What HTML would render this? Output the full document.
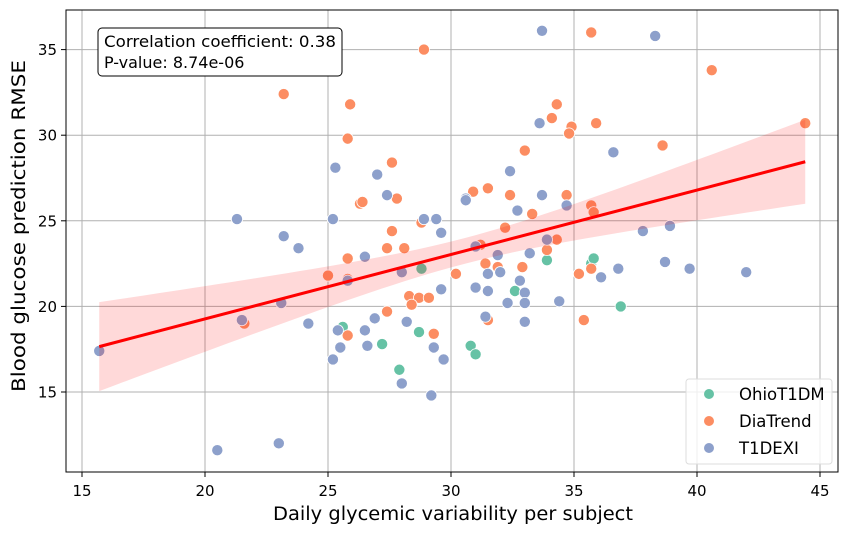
<!DOCTYPE html>
<html><head><meta charset="utf-8"><style>
body{margin:0;background:#fff;}
svg{display:block;font-family:"DejaVu Sans","Liberation Sans",sans-serif;}
</style></head><body>
<svg id="chart" width="850" height="534">
<rect x="0" y="0" width="850" height="534" fill="#fff"/>
<g id="grid"></g>
<g id="ticks"></g>
<g id="points"></g>
<g id="fit"></g>
<rect x="66" y="10" width="772" height="462" fill="none" stroke="#000" stroke-width="1"/>
<text x="453" y="520" font-size="18.5" text-anchor="middle" textLength="360" lengthAdjust="spacingAndGlyphs">Daily glycemic variability per subject</text>
<text x="25" y="226" font-size="18.5" text-anchor="middle" textLength="332" lengthAdjust="spacingAndGlyphs" transform="rotate(-90 25 226)">Blood glucose prediction RMSE</text>
<g>
<rect x="98" y="28" width="244" height="48" rx="4" fill="#fff" stroke="#000" stroke-width="1"/>
<text x="104" y="47" font-size="16" textLength="232" lengthAdjust="spacingAndGlyphs">Correlation coefficient: 0.38</text>
<text x="104" y="68" font-size="16">P-value: 8.74e-06</text>
</g>
<g>
<rect x="686" y="379" width="146" height="85" rx="3" fill="#fff" fill-opacity="0.8" stroke="#ddd"/>
<g><circle cx="709" cy="394" r="5" fill="#66c2a5"/><text x="739" y="400" font-size="16.5">OhioT1DM</text></g>
<g><circle cx="709" cy="421" r="5" fill="#fc8d62"/><text x="739" y="427" font-size="16.5">DiaTrend</text></g>
<g><circle cx="709" cy="448" r="5" fill="#8da0cb"/><text x="739" y="454" font-size="16.5">T1DEXI</text></g>
</g>
</svg>
<script>
const xTicks=[15,20,25,30,35,40,45];
const yTicks=[15,20,25,30,35];
const ohioX=[25.6,27.2,27.9,28.8,28.7,30.8,31.0,32.6,33.9,35.7,35.8,36.9];
const ohioY=[18.8,17.8,16.3,22.2,18.5,17.7,17.2,20.9,22.7,22.5,22.8,20.0];
const diaX=[28.9,23.2,25.9,25.8,27.6,27.8,26.3,26.4,28.8,27.6,25.8,27.4,28.1,25.0,25.8,28.0,30.2,28.3,28.7,29.1,28.4,21.6,27.4,25.8,29.3,31.2,33.9,31.4,31.9,32.9,31.5,35.2,35.7,35.4,35.7,40.6,34.3,34.1,34.9,34.8,35.9,44.4,38.6,33.0,31.5,30.9,32.4,34.7,35.7,35.8,33.3,32.2,34.3];
const diaY=[35.0,32.4,31.8,29.8,28.4,26.3,26.0,26.1,24.9,24.4,22.8,23.4,23.4,21.8,21.6,22.0,21.9,20.6,20.5,20.5,20.1,19.0,19.7,18.3,18.4,23.6,23.3,22.5,22.3,22.3,19.2,21.9,22.2,19.2,36.0,33.8,31.8,31.0,30.5,30.1,30.7,30.7,29.4,29.1,26.9,26.7,26.5,26.5,25.9,25.5,25.4,24.6,23.9];
const t1dX=[33.7,38.3,33.6,36.6,32.4,30.6,30.6,33.7,34.7,32.7,37.8,38.9,33.9,25.3,27.0,27.4,21.3,25.2,28.9,29.4,23.2,29.6,23.8,26.5,25.8,28.0,29.6,23.1,21.5,24.2,26.9,28.2,25.4,26.5,26.6,25.5,29.3,29.7,25.2,28.0,29.2,20.5,23.0,15.7,31.0,31.9,33.2,31.5,32.0,32.8,31.0,31.5,33.0,32.3,33.0,34.4,31.4,33.0,36.1,36.8,38.7,39.7,42.0];
const t1dY=[36.1,35.8,30.7,29.0,27.9,26.3,26.2,26.5,25.9,25.6,24.4,24.7,23.9,28.1,27.7,26.5,25.1,25.1,25.1,25.1,24.1,24.3,23.4,22.9,21.5,22.0,21.0,20.2,19.2,19.0,19.3,19.1,18.6,18.6,17.7,17.6,17.6,16.9,16.9,15.5,14.8,11.6,12.0,17.4,23.5,23.0,23.1,21.9,22.0,21.5,21.1,20.9,20.8,20.2,20.2,20.3,19.4,19.1,21.7,22.2,22.6,22.2,22.0];
const fitRange=[15.7,44.4];
const fitCoef=[17.65,0.3763];
const ciParams=[30.5,0.75,0.168];

const NS="http://www.w3.org/2000/svg";
const X0=66,X1=838,Y0=10,Y1=472;
const sx=v=>82+(v-15)*24.6;
const sy=v=>392-(v-15)*17.12;
function mk(tag,attrs,parent){const e=document.createElementNS(NS,tag);for(const k in attrs)e.setAttribute(k,attrs[k]);parent.appendChild(e);return e;}
const grid=document.getElementById('grid'),ticks=document.getElementById('ticks');
xTicks.forEach(t=>{
  const l=mk('line',{x1:sx(t),x2:sx(t),y1:Y0,y2:Y1,stroke:'#b0b0b0','stroke-width':1},grid);
  
  
  mk('line',{x1:sx(t),x2:sx(t),y1:Y1,y2:Y1+5,stroke:'#000'},ticks);
  const tx=mk('text',{x:sx(t),y:Y1+24,'font-size':15,'text-anchor':'middle'},ticks);
  tx.textContent=t;
  
  
});
yTicks.forEach(t=>{
  const l=mk('line',{x1:X0,x2:X1,y1:sy(t),y2:sy(t),stroke:'#b0b0b0','stroke-width':1},grid);
  
  
  mk('line',{x1:X0-5,x2:X0,y1:sy(t),y2:sy(t),stroke:'#000'},ticks);
  const tx=mk('text',{x:X0-9,y:sy(t)+5.5,'font-size':15,'text-anchor':'end'},ticks);
  tx.textContent=t;
  
  
});
const pts=document.getElementById('points');
function series(xs,ys,color,name){
  xs.forEach((x,i)=>{
    const c=mk('circle',{cx:sx(x),cy:sy(ys[i]),r:5.6,fill:color,stroke:'#fff','stroke-width':0.8},pts);
    
    
  });
}
series(ohioX,ohioY,'#66c2a5','ohiot1dm');
series(diaX,diaY,'#fc8d62','diatrend');
series(t1dX,t1dY,'#8da0cb','t1dexi');
const fit=document.getElementById('fit');
const f=x=>fitCoef[0]+fitCoef[1]*(x-15.7);
const hw=x=>Math.sqrt(ciParams[1]**2+(ciParams[2]*(x-ciParams[0]))**2);
let up=[],lo=[];
for(let i=0;i<=60;i++){const x=fitRange[0]+(fitRange[1]-fitRange[0])*i/60;up.push(sx(x)+','+sy(f(x)+hw(x)));lo.unshift(sx(x)+','+sy(f(x)-hw(x)));}
const band=mk('polygon',{points:up.concat(lo).join(' '),fill:'#ff0000','fill-opacity':0.15},fit);


const line=mk('line',{x1:sx(fitRange[0]),y1:sy(f(fitRange[0])),x2:sx(fitRange[1]),y2:sy(f(fitRange[1])),stroke:'#ff0000','stroke-width':3},fit);


</script>
</body></html>
